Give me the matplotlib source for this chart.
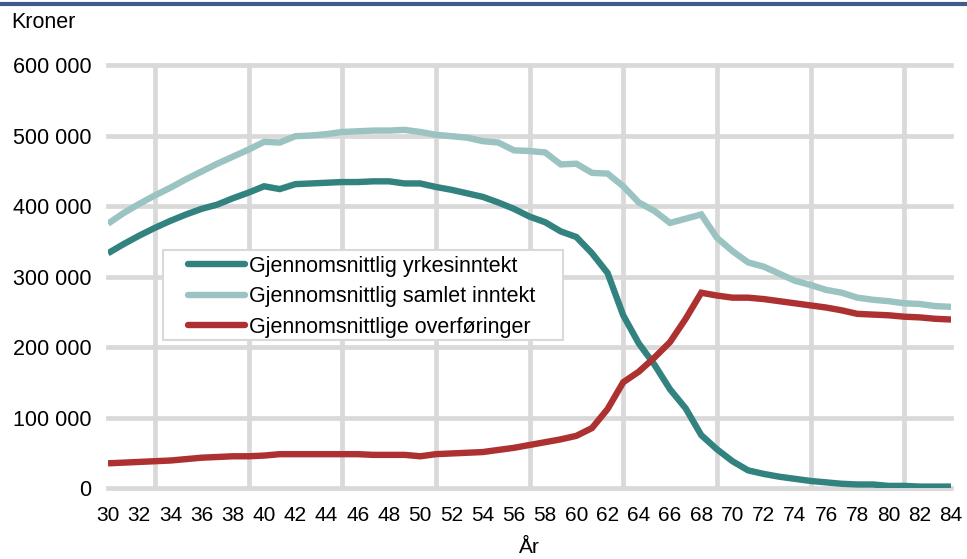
import matplotlib
matplotlib.use("Agg")
import matplotlib.pyplot as plt
from matplotlib.ticker import MultipleLocator, FuncFormatter
from matplotlib.lines import Line2D
from matplotlib.patches import Rectangle

plt.rcParams['font.family'] = ['Liberation Sans', 'DejaVu Sans']

ages = list(range(30, 85))

yrkesinntekt = [333, 346, 358, 369, 379, 388, 396, 402, 411, 419,
                428, 424, 431, 432, 433, 434, 434, 435, 435, 432,
                432, 427, 423, 418, 413, 405, 396, 385, 377, 364,
                356, 333, 305, 245, 205, 175, 140, 113, 75, 55,
                38, 25, 20, 16, 13, 10, 8, 6, 5, 5,
                3, 3, 2, 2, 2]

samlet = [375, 390, 403, 415, 426, 438, 449, 460, 470, 480,
          491, 490, 499, 500, 502, 505, 506, 507, 507, 508,
          505, 501, 499, 497, 492, 490, 479, 478, 476, 459,
          460, 447, 446, 428, 405, 393, 376, 382, 388, 355,
          336, 320, 314, 304, 294, 288, 281, 277, 270, 267,
          265, 262, 261, 258, 257]

overforinger = [35, 36, 37, 38, 39, 41, 43, 44, 45, 45,
                46, 48, 48, 48, 48, 48, 48, 47, 47, 47,
                45, 48, 49, 50, 51, 54, 57, 61, 65, 69,
                74, 85, 112, 150, 165, 185, 207, 240, 277, 273,
                270, 270, 268, 265, 262, 259, 256, 252, 247, 246,
                245, 243, 242, 240, 239]

labels = ["Gjennomsnittlig yrkesinntekt",
          "Gjennomsnittlig samlet inntekt",
          "Gjennomsnittlige overføringer"]
colors = ["#32837f", "#9ac3c1", "#ae3132"]

fig = plt.figure(figsize=(9.67, 5.59), dpi=100)
ax = fig.add_axes([0.1117, 0.127, 0.8718, 0.7567])

for vals, lab, col in zip([yrkesinntekt, samlet, overforinger], labels, colors):
    ax.plot(ages, [v * 1000 for v in vals], color=col, lw=4.6, label=lab,
            solid_capstyle='butt', solid_joinstyle='miter', zorder=3)

ax.set_xlim(30, 84)
ax.set_ylim(0, 600000)
ax.xaxis.set_major_locator(MultipleLocator(2))
ax.xaxis.set_minor_locator(MultipleLocator(3))
ax.yaxis.set_major_locator(MultipleLocator(100000))
ax.yaxis.set_major_formatter(FuncFormatter(lambda v, p: f"{int(v):,}".replace(",", " ")))

ax.grid(which='minor', axis='x', color='#d9d9d9', lw=3.4, clip_on=False, zorder=0)
ax.grid(which='major', axis='y', color='#d9d9d9', lw=3.4, clip_on=False, zorder=0)
ax.grid(which='major', axis='x', visible=False)
ax.set_axisbelow(True)
for s in ax.spines.values():
    s.set_visible(False)
ax.tick_params(which='both', length=0)
ax.tick_params(axis='y', pad=12, labelsize=15.5)
ax.tick_params(axis='x', pad=13, labelsize=15)

ax.set_xlabel("År", fontsize=15, labelpad=9)
fig.text(0.012, 0.96, "Kroner", fontsize=15.5, va='center', ha='left')

ax.add_patch(Rectangle((0.0652, 0.35), 0.4745, 0.2128, transform=ax.transAxes,
                       facecolor='white', edgecolor='#d9d9d9', lw=1.5, zorder=4))
leg = ax.legend(loc='upper left', bbox_to_anchor=(0.0949, 0.549), fontsize=15.5,
                handlelength=2.65, handletextpad=0.2, labelspacing=0.44,
                borderpad=0, frameon=False, borderaxespad=0)
leg.set_zorder(5)
for h in leg.get_lines():
    h.set_linewidth(4.6)
    h.set_solid_capstyle('round')

fig.add_artist(Line2D([0, 1], [0.992, 0.992], transform=fig.transFigure,
                      color='#3f5b8b', lw=3))

fig.savefig("out.png", dpi=100)
